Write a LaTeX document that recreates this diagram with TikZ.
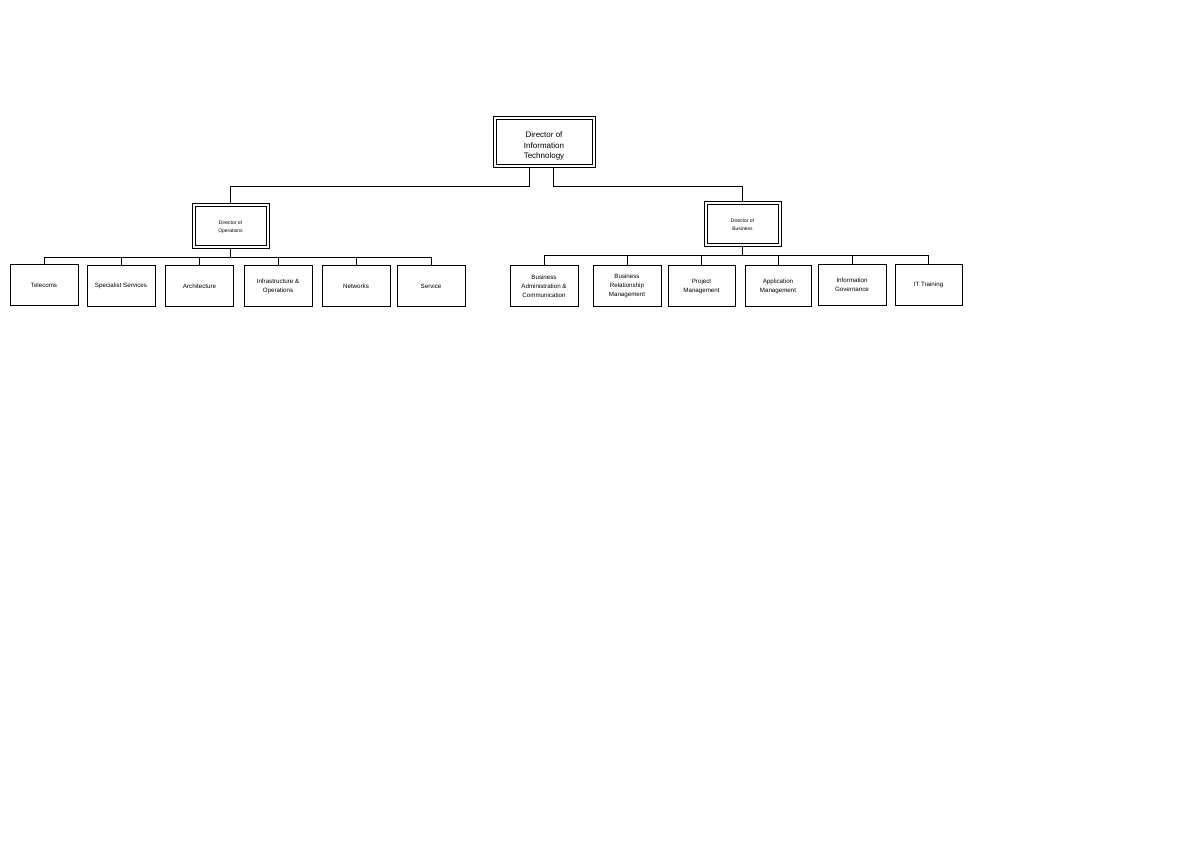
\documentclass[tikz,border=0pt]{standalone}
\usepackage{fontspec}
\setmainfont{Liberation Sans}
\begin{document}
\begin{tikzpicture}[x=1pt,y=-1pt,
  dbox/.style={draw, line width=0.6pt, fill=white, inner sep=0pt},
  topbox/.style={dbox, minimum width=102pt, minimum height=51pt},
  midbox/.style={dbox, minimum width=77pt, minimum height=45pt},
  toptext/.style={align=center, inner sep=0pt, font=\fontsize{8}{10.5}\selectfont},
  midtext/.style={align=center, inner sep=0pt, font=\fontsize{5}{8}\selectfont},
  unit/.style={draw, line width=0.6pt, fill=white, align=center, inner sep=0pt, minimum width=68pt, minimum height=41pt, font=\fontsize{6.2}{9}\selectfont},
  inner/.style={line width=0.6pt},
  conn/.style={line width=0.6pt}]
\useasboundingbox (0,0) rectangle (1191,843);
\node[topbox] (top) at (544,141.5) {};
\node[midbox] (ops) at (230.5,225.5) {};
\node[midbox] (bus) at (742.5,223.5) {};
\foreach \b in {top,ops,bus}{\draw[inner] ([shift={(3.5,3.5)}]\b.north west) rectangle ([shift={(-3.5,-3.5)}]\b.south east);}
\node[toptext] (topt) at ([yshift=-4.5pt]top.center) {Director of\\Information\\Technology};
\node[midtext] (opst) at ([yshift=-2pt]ops.center) {Director of\\Operations};
\node[midtext] (bust) at ([yshift=-1pt]bus.center) {Director of\\Business};

\node[unit] (tel) at (44,285) {Telecoms};
\node[unit] (spe) at (121,286) {Specialist Services};
\node[unit] (arc) at (199.5,286) {Architecture};
\node[unit] (inf) at (278,286) {Infrastructure \&\\Operations};
\node[unit] (net) at (356,286) {Networks};
\node[unit] (ser) at (431,286) {Service};

\node[unit] (bac) at (544,286) {Business\\Administration \&\\Communication};
\node[unit] (brm) at (627,286) {Business\\Relationship\\Management};
\node[unit, minimum width=67pt] (pm) at (701.5,286) {Project\\Management};
\node[unit, minimum width=66pt] (am) at (778,286) {Application\\Management};
\node[unit] (ig) at (852,285) {Information\\Governance};
\node[unit, minimum width=67pt] (itt) at (928.5,285) {IT Training};

\draw[conn] ([xshift=-15pt]top.south) -- ++(0,19) -| (ops.north);
\draw[conn] ([xshift=9pt]top.south) -- ++(0,19) -| (bus.north);

\draw[conn] (ops.south) -- ++(0,9) coordinate (obar);
\foreach \c in {tel,spe,arc,inf,net,ser}{\draw[conn] (obar) -| (\c.north);}
\draw[conn] (bus.south) -- ++(0,9) coordinate (bbar);
\foreach \c in {bac,brm,pm,am,ig,itt}{\draw[conn] (bbar) -| (\c.north);}
\end{tikzpicture}
\end{document}
